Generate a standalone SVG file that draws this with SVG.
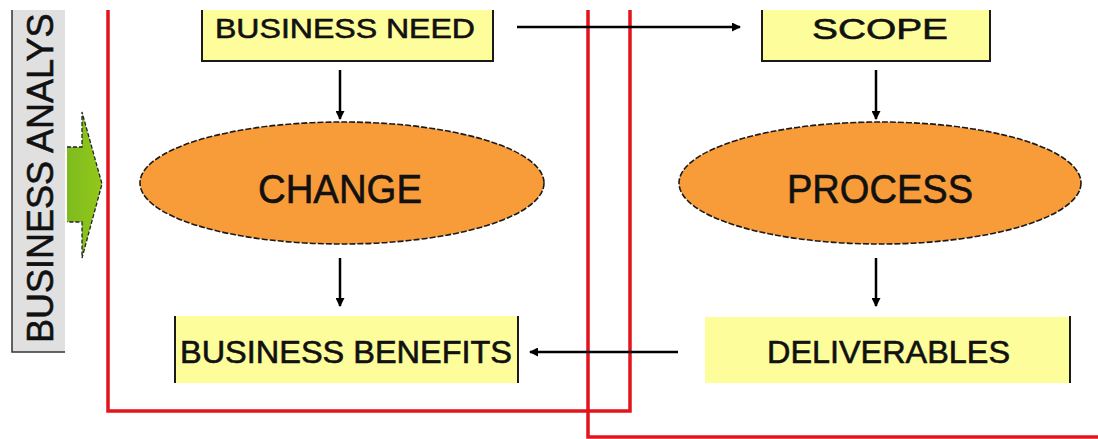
<svg xmlns="http://www.w3.org/2000/svg" width="1098" height="439" viewBox="0 0 1098 439">
  <defs>
    <marker id="ah" markerWidth="9" markerHeight="9" refX="8" refY="4.5" orient="auto" markerUnits="userSpaceOnUse">
      <path d="M0,0 L9,4.5 L0,9 Z" fill="#000"/>
    </marker>
    <linearGradient id="green" x1="0" y1="0" x2="1" y2="0">
      <stop offset="0" stop-color="#7dbb1e"/>
      <stop offset="1" stop-color="#94c81a"/>
    </linearGradient>
  </defs>
  <style>
    .lbl { font-family: "Liberation Sans", Arial, sans-serif; fill: #111; stroke: #111; stroke-width: 0.6; }
    .box { fill: #fdfd9b; }
    .edge { stroke: #1a1a1a; stroke-width: 2; fill: none; }
    .ell { fill: #f89c3a; stroke: #1a1a1a; stroke-width: 1.6; stroke-dasharray: 6 2; }
    .conn { stroke: #000; stroke-width: 2.5; fill: none; marker-end: url(#ah); }
    .frame { stroke: #e3141c; stroke-width: 3.5; fill: none; }
  </style>
  <rect width="1098" height="439" fill="#fff"/>

  <g id="frames">
    <polyline class="frame" points="108,10 108,411 630,411 630,10"/>
    <polyline class="frame" points="588,10 588,437 1098,437"/>
  </g>

  <g id="business-analysis">
    <rect x="12" y="10" width="53" height="342" fill="#e0e0e0"/>
    <polyline points="12,10 12,352 65,352" fill="none" stroke="#333" stroke-width="1.5"/>
    <text class="lbl" font-size="36" stroke-width="0.3" transform="translate(53,343) rotate(-90)">BUSINESS ANALYS</text>
  </g>

  <g id="green-arrow">
    <polygon points="67,147 82,147 82,112 102,184 82,258 82,222 67,222" fill="url(#green)"/>
    <polyline points="67,147 82,147 82,112 102,184 82,258 82,222 67,222" fill="none" stroke="#223" stroke-width="1.3" stroke-dasharray="4 2"/>
  </g>

  <g id="business-need">
    <rect class="box" x="202" y="10" width="291" height="51"/>
    <polyline class="edge" points="202,10 202,61 493,61 493,10"/>
    <text class="lbl" x="215" y="38" font-size="28" textLength="260" lengthAdjust="spacingAndGlyphs">BUSINESS NEED</text>
  </g>

  <g id="scope">
    <rect class="box" x="762" y="10" width="228" height="51"/>
    <polyline class="edge" points="762,10 762,61 990,61 990,10"/>
    <text class="lbl" x="812" y="39" font-size="29" textLength="136" lengthAdjust="spacingAndGlyphs">SCOPE</text>
  </g>

  <g id="change">
    <ellipse class="ell" cx="342" cy="183" rx="202" ry="61"/>
    <text class="lbl" x="258" y="203" font-size="40" textLength="164" lengthAdjust="spacingAndGlyphs">CHANGE</text>
  </g>

  <g id="process">
    <ellipse class="ell" cx="880" cy="183" rx="201" ry="61"/>
    <text class="lbl" x="787" y="203" font-size="40" textLength="186" lengthAdjust="spacingAndGlyphs">PROCESS</text>
  </g>

  <g id="business-benefits">
    <rect class="box" x="175" y="316" width="343" height="67"/>
    <line class="edge" x1="175" y1="316" x2="175" y2="383"/>
    <line class="edge" x1="518" y1="316" x2="518" y2="383"/>
    <text class="lbl" x="180" y="363" font-size="31" textLength="332" lengthAdjust="spacingAndGlyphs">BUSINESS BENEFITS</text>
  </g>

  <g id="deliverables">
    <rect class="box" x="705" y="317" width="365" height="66"/>
    <line class="edge" x1="1070" y1="316" x2="1070" y2="383"/>
    <text class="lbl" x="767" y="363" font-size="31" textLength="243" lengthAdjust="spacingAndGlyphs">DELIVERABLES</text>
  </g>

  <g id="connectors">
    <line class="conn" x1="517" y1="27" x2="740" y2="27"/>
    <line class="conn" x1="340" y1="70" x2="340" y2="119"/>
    <line class="conn" x1="876" y1="70" x2="876" y2="119"/>
    <line class="conn" x1="340" y1="258" x2="340" y2="306"/>
    <line class="conn" x1="876" y1="258" x2="876" y2="306"/>
    <line class="conn" x1="678" y1="352" x2="530" y2="352"/>
  </g>
</svg>
